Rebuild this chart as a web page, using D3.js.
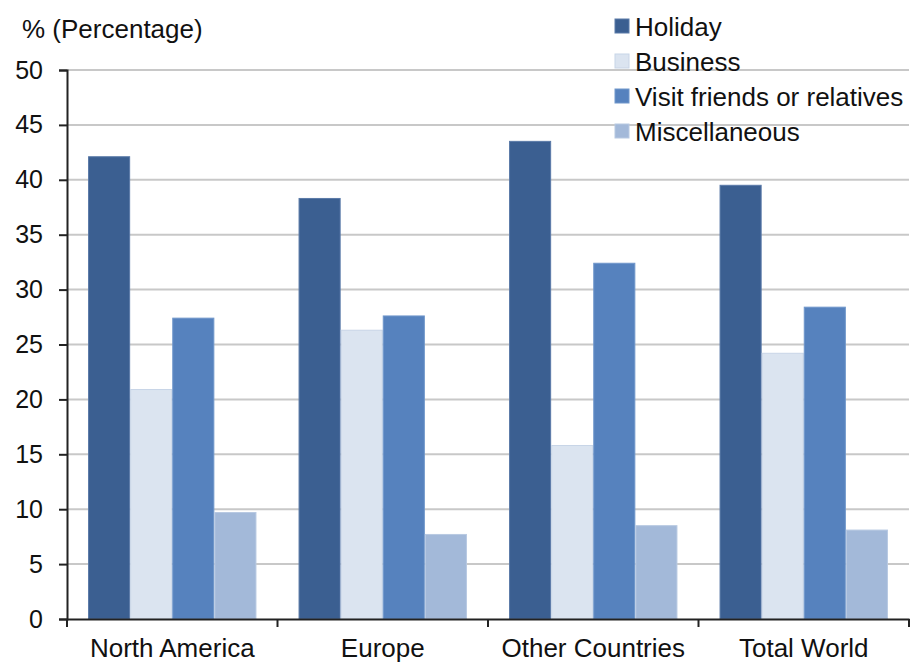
<!DOCTYPE html>
<html>
<head>
<meta charset="utf-8">
<script src="https://cdn.jsdelivr.net/npm/d3@7"></script>
<style>
  body { margin: 0; background: #fff; }
  text { font-family: "Liberation Sans", Arial, sans-serif; fill: #111; }
</style>
</head>
<body>
<svg id="chart" width="911" height="665"></svg>
<script>
var regions = ["North America", "Europe", "Other Countries", "Total World"];
var purposes = ["Holiday", "Business", "Visit friends or relatives", "Miscellaneous"];
var holiday = [42.1, 38.3, 43.5, 39.5];
var business = [20.9, 26.3, 15.8, 24.2];
var visits = [27.4, 27.6, 32.4, 28.4];
var misc = [9.7, 7.7, 8.5, 8.1];
var yTicks = [0, 5, 10, 15, 20, 25, 30, 35, 40, 45, 50];

var colors = ["#3b5f91", "#dbe4f0", "#5682be", "#a3b9d9"];
var strokes = ["#5a7aa8", "#c8d5e7", "#7097cb", "#b8c9e2"];

var series = [holiday, business, visits, misc];

var margin = { left: 67, top: 70, right: 2, bottom: 46 };
var width = 911, height = 665;
var fontSize = "26px";

var svg = d3.select("#chart");

var x = d3.scaleBand()
    .domain(regions)
    .range([margin.left, width - margin.right])
    .paddingInner(0)
    .paddingOuter(0);

// bars of one group touch, half a bar of room on each side
var xInner = d3.scaleBand()
    .domain(purposes)
    .range([0, x.bandwidth()])
    .paddingOuter(0.5)
    .paddingInner(0);

var y = d3.scaleLinear()
    .domain([0, 50])
    .range([height - margin.bottom, margin.top]);

// gridlines
svg.append("g")
  .selectAll("line")
  .data(yTicks.slice(1))
  .enter().append("line")
    .attr("x1", margin.left)
    .attr("x2", width - margin.right)
    .attr("y1", function(d) { return y(d); })
    .attr("y2", function(d) { return y(d); })
    .style("stroke", "#c8c8c8")
    .style("stroke-width", 2);

// bars
var groups = svg.append("g")
  .selectAll("g")
  .data(regions)
  .enter().append("g")
    .attr("transform", function(d) { return "translate(" + x(d) + ",0)"; });

groups.selectAll("rect")
  .data(function(d, i) {
    return purposes.map(function(p, j) { return { key: p, idx: j, value: series[j][i] }; });
  })
  .enter().append("rect")
    .attr("x", function(d) { return xInner(d.key) + 0.5; })
    .attr("width", xInner.bandwidth() - 1)
    .attr("y", function(d) { return y(d.value); })
    .attr("height", function(d) { return y(0) - y(d.value); })
    .style("fill", function(d) { return colors[d.idx]; })
    .style("stroke", function(d) { return strokes[d.idx]; })
    .style("stroke-width", 1);

// y axis
var yAxis = svg.append("g")
    .attr("transform", "translate(" + margin.left + ",0)")
    .call(d3.axisLeft(y).tickValues(yTicks).tickSize(8).tickPadding(16));
yAxis.select(".domain").style("stroke", "#222").style("stroke-width", 2);
yAxis.selectAll(".tick line").style("stroke", "#222").style("stroke-width", 2);
yAxis.selectAll(".tick text")
    .style("font-size", "25px")
    .style("font-family", "'Liberation Sans', Arial, sans-serif")
    .style("fill", "#111");

// x axis (labels pulled up a little so descenders stay inside the frame)
var xAxis = svg.append("g")
    .attr("transform", "translate(0," + y(0) + ")")
    .call(d3.axisBottom(x).tickSize(0).tickPadding(20).tickSizeOuter(0));
xAxis.select(".domain").style("stroke", "#222").style("stroke-width", 2);
xAxis.selectAll(".tick text")
    .style("font-size", fontSize)
    .style("font-family", "'Liberation Sans', Arial, sans-serif")
    .style("fill", "#111");

// category separator ticks
var bounds = regions.map(function(r) { return x(r); }).concat([x(regions[regions.length - 1]) + x.bandwidth()]);
svg.append("g")
  .selectAll("line")
  .data(bounds)
  .enter().append("line")
    .attr("x1", function(d) { return d; })
    .attr("x2", function(d) { return d; })
    .attr("y1", y(0))
    .attr("y2", y(0) + 8)
    .style("stroke", "#222")
    .style("stroke-width", 2);

// axis title
svg.append("text")
    .attr("x", 22)
    .attr("y", 38)
    .style("font-size", fontSize)
    .text("% (Percentage)");

// legend
var legend = svg.append("g")
    .selectAll("g")
    .data(purposes)
    .enter().append("g")
      .attr("transform", function(d, i) { return "translate(615," + (19 + i * 35) + ")"; });

legend.append("rect")
    .attr("width", 14)
    .attr("height", 14)
    .style("fill", function(d, i) { return colors[i]; })
    .style("stroke", function(d, i) { return strokes[i]; });

legend.append("text")
    .attr("x", 20)
    .attr("y", 17)
    .style("font-size", fontSize)
    .text(function(d) { return d; });
</script>
</body>
</html>
